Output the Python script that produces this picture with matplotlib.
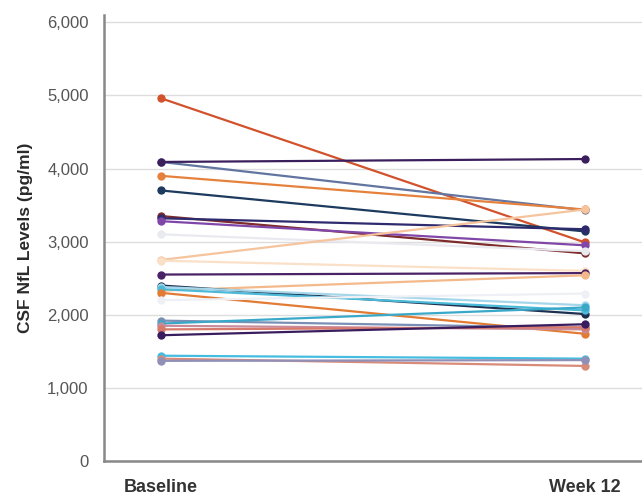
import matplotlib
matplotlib.use("Agg")
import matplotlib.pyplot as plt
from matplotlib.ticker import FuncFormatter

plt.rcParams['font.family'] = ['Liberation Sans', 'DejaVu Sans']

timepoints = ["Baseline", "Week 12"]

# CSF NfL per participant (pg/ml)
baseline = [4960, 4090, 4090, 3900, 3700, 3350, 3320, 3280, 3100, 2750, 2740,
            2550, 2330, 2400, 2380, 2350, 2300, 2200, 1920, 1880, 1850, 1800,
            1720, 1440, 1400, 1370]
week12 = [2990, 3430, 4130, 3440, 3140, 2840, 3170, 2950, 2870, 3440, 2600,
          2570, 2540, 2010, 2130, 2060, 1740, 2290, 1820, 2100, 1800, 1830,
          1870, 1400, 1300, 1380]
colors = ["#d1522c", "#6275a0", "#3b1f5c", "#e5813d", "#1d3a5f", "#7d2b2b",
          "#2e2a6e", "#8047a8", "#e9e9f0", "#f6c49c", "#fbe0c8", "#4a2366",
          "#f4b98a", "#1c2f50", "#a5d6ea", "#4bbad8", "#e27b34", "#eef0f5",
          "#7a8fb5", "#3aa9c9", "#c98a9a", "#d77a6c", "#3a1d5e", "#45bde0",
          "#d98b7a", "#8f8fb8"]

fig = plt.figure(figsize=(6.42, 5.0), dpi=100)
ax = fig.add_axes([0.162, 0.078, 0.838, 0.892])

for b, w, c in zip(baseline, week12, colors):
    ax.plot([0, 1], [b, w], color=c, lw=1.6, marker="o", markersize=6,
            markeredgewidth=0, solid_capstyle="round", zorder=3)

ax.set_xlim(-0.135, 1.135)
ax.set_ylim(0, 6100)
ax.set_yticks(range(0, 6001, 1000))
ax.yaxis.set_major_formatter(FuncFormatter(lambda v, p: f"{int(v):,}"))
ax.set_xticks([0, 1])
ax.set_xticklabels(timepoints, fontsize=13, fontweight="bold", color="#333333")
ax.tick_params(axis="y", length=0, pad=11, labelsize=12, labelcolor="#555555")
ax.tick_params(axis="x", length=0, pad=13)

ax.grid(axis="y", color="#dddddd", lw=1)
ax.set_axisbelow(True)
for s in ["top", "right"]:
    ax.spines[s].set_visible(False)
for s in ["left", "bottom"]:
    ax.spines[s].set_color("#888888")
    ax.spines[s].set_linewidth(1.8)

ax.set_ylabel("CSF NfL Levels (pg/ml)", fontsize=12.5, fontweight="bold",
              color="#2a2a2a", labelpad=10)

fig.savefig("out.png", dpi=100)
